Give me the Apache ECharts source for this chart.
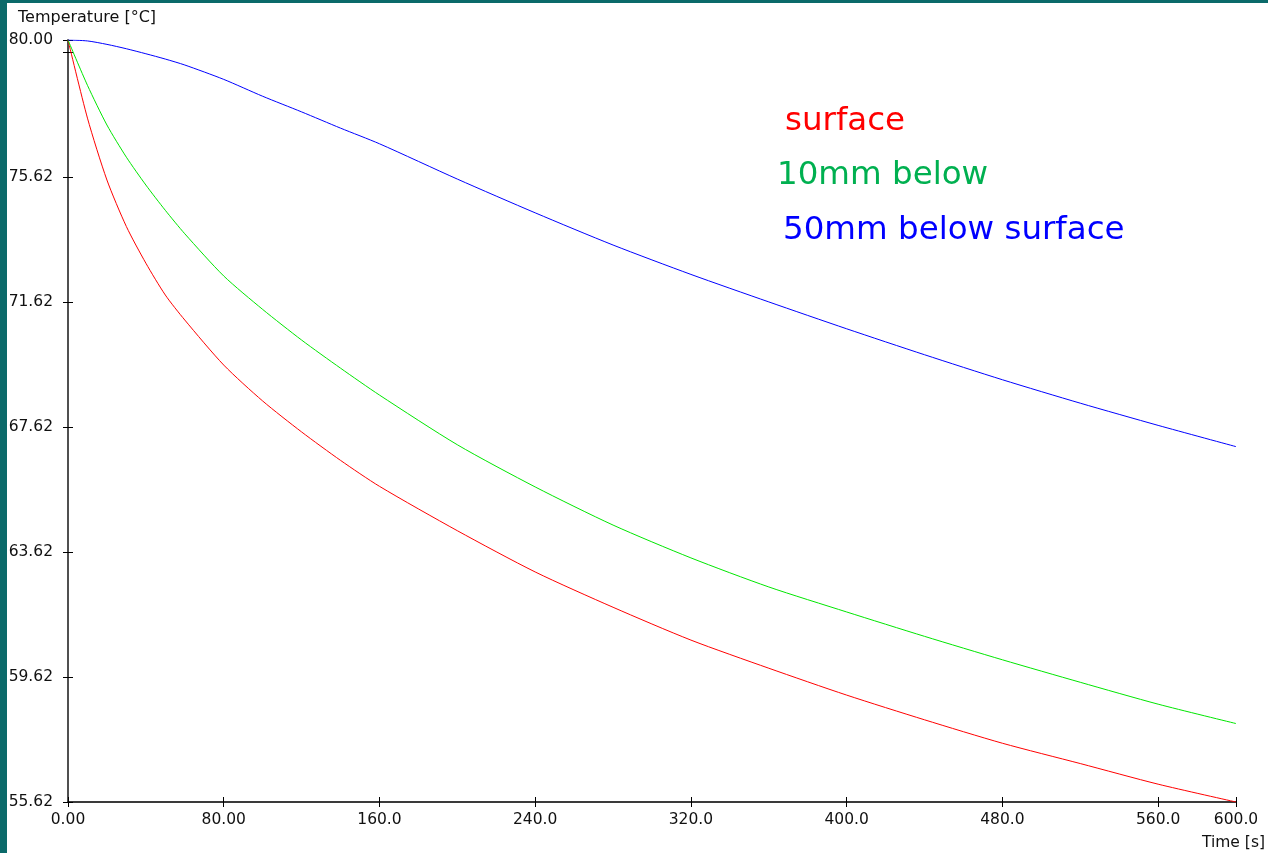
<!DOCTYPE html>
<html>
<head>
<meta charset="utf-8">
<script src="https://cdn.jsdelivr.net/npm/echarts@6/dist/echarts.min.js"></script>
<style>
  html, body { margin: 0; padding: 0; width: 1268px; height: 853px; background: #0b6a6a; overflow: hidden; }
  #chart { position: absolute; left: 7px; top: 3px; width: 1261px; height: 850px; background: #ffffff; }
</style>
</head>
<body>
<div id="chart"></div>
<script>
// time [s]
const times = [0, 10, 20, 30, 40, 50, 60, 80, 100, 120, 140, 160, 200, 240, 280, 320, 360, 400, 440, 480, 520, 560, 600];
// temperature [°C]
const surface = [80.00, 77.50, 75.52, 74.03, 72.86, 71.84, 71.04, 69.60, 68.45, 67.46, 66.55, 65.72, 64.30, 62.98, 61.85, 60.80, 59.90, 59.04, 58.25, 57.50, 56.85, 56.19, 55.62];
const below10 = [80.00, 78.55, 77.28, 76.25, 75.36, 74.55, 73.80, 72.45, 71.38, 70.40, 69.50, 68.64, 67.05, 65.70, 64.48, 63.43, 62.50, 61.70, 60.92, 60.17, 59.45, 58.75, 58.13];
const below50 = [80.00, 79.97, 79.86, 79.72, 79.56, 79.39, 79.20, 78.74, 78.20, 77.70, 77.18, 76.68, 75.55, 74.47, 73.44, 72.50, 71.62, 70.76, 69.93, 69.13, 68.38, 67.67, 66.99];

const xTicks = [0, 80, 160, 240, 320, 400, 480, 560, 600];
const yTicks = [55.62, 59.62, 63.62, 67.62, 71.62, 75.62, 79.62, 80.00];
const yLabels = [55.62, 59.62, 63.62, 67.62, 71.62, 75.62, 80.00];

const seriesNames = ['surface', '10mm below', '50mm below surface'];
const lineColors = ['#ff0000', '#00e600', '#0000ff'];
const textColors = ['#ff0000', '#00b050', '#0000ff'];

const pair = (arr) => times.map((t, i) => [t, arr[i]]);

const FONT = 'DejaVu Sans';
const chart = echarts.init(document.getElementById('chart'), null, { renderer: 'canvas' });

const xFmt = (v) => v === 0 ? '0.00' : Number(v).toPrecision(4);
const yFmt = (v) => Number(v).toFixed(2);

const option = {
  animation: false,
  backgroundColor: '#ffffff',
  grid: { left: 61, top: 37, right: 32, bottom: 51, containLabel: false, outerBoundsMode: 'none' },
  xAxis: [
    {
      type: 'value', min: 0, max: 600, position: 'bottom',
      axisLine: { show: true, lineStyle: { color: '#3a3a3a', width: 2 } },
      axisTick: { show: true, length: 5, inside: false, customValues: xTicks, lineStyle: { color: '#000', width: 1 } },
      axisLabel: { show: true, customValues: xTicks, formatter: xFmt, margin: 10, color: '#111', fontFamily: FONT, fontSize: 15.5 },
      splitLine: { show: false }
    },
    {
      type: 'value', min: 0, max: 600, position: 'bottom', gridIndex: 0,
      axisLine: { show: false },
      axisTick: { show: true, length: 5, inside: true, customValues: xTicks, lineStyle: { color: '#000', width: 1 } },
      axisLabel: { show: false },
      splitLine: { show: false }
    }
  ],
  yAxis: [
    {
      type: 'value', min: 55.62, max: 80, position: 'left',
      axisLine: { show: true, lineStyle: { color: '#505050', width: 2 } },
      axisTick: { show: true, length: 5, inside: false, customValues: yTicks, lineStyle: { color: '#000', width: 1 } },
      axisLabel: { show: true, customValues: yLabels, formatter: yFmt, margin: 15, color: '#111', fontFamily: FONT, fontSize: 15.5, padding: [2, 0, 0, 0] },
      splitLine: { show: false }
    },
    {
      type: 'value', min: 55.62, max: 80, position: 'left', offset: 0,
      axisLine: { show: false },
      axisTick: { show: true, length: 5, inside: true, customValues: yTicks, lineStyle: { color: '#000', width: 1 } },
      axisLabel: { show: false },
      splitLine: { show: false }
    }
  ],
  series: [surface, below10, below50].map((arr, i) => ({
    name: seriesNames[i],
    type: 'line',
    data: pair(arr),
    showSymbol: false,
    symbol: 'none',
    smooth: 0.25,
    lineStyle: { color: lineColors[i], width: 1 },
    z: 3 + i
  })),
  graphic: [
    { type: 'text', left: 11, top: 7, style: { text: 'Temperature [°C]', fill: '#111', font: '16px "DejaVu Sans"' } },
    { type: 'text', right: 3, top: 832, style: { text: 'Time [s]', fill: '#111', font: '15.5px "DejaVu Sans"' } },
    { type: 'text', x: 778, y: 119, style: { text: seriesNames[0], fill: textColors[0], font: '32.5px "DejaVu Sans"', verticalAlign: 'middle' } },
    { type: 'text', x: 770, y: 173, style: { text: seriesNames[1], fill: textColors[1], font: '32.5px "DejaVu Sans"', verticalAlign: 'middle' } },
    { type: 'text', x: 776, y: 228, style: { text: seriesNames[2], fill: textColors[2], font: '32.5px "DejaVu Sans"', verticalAlign: 'middle' } }
  ]
};
chart.setOption(option);
</script>
</body>
</html>
